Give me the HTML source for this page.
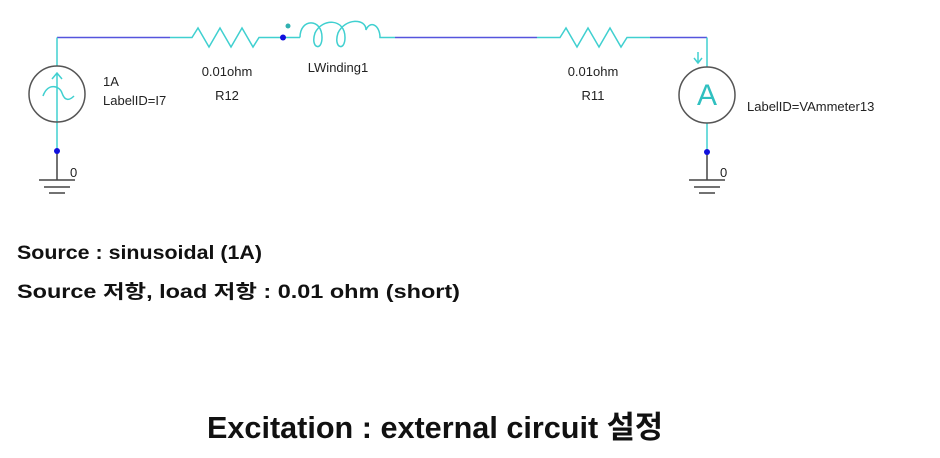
<!DOCTYPE html>
<html><head><meta charset="utf-8"><style>
html,body{margin:0;padding:0;background:#fff;}
svg{display:block}
</style></head><body>
<svg width="940" height="458" viewBox="0 0 940 458" xmlns="http://www.w3.org/2000/svg">
<g fill="none" stroke-width="1.5">
<!-- blue wires -->
<path d="M57 37.5 H170 M395 37.5 H537 M650 37.5 H707" stroke="#5555dd"/>
<!-- cyan parts -->
<g stroke="#40d0d0">
<path d="M57 37.5 V66 M57 122 V151"/>
<path d="M170 37.5 H192 L198 28 L209 47 L220 28 L231 47 L242 28 L253 47 L259 37.5 H300"/>
<path d="M300 37.5 C300 18, 322 18, 322 37.5 C322 52, 310 48, 315 33 C322 18, 345 18, 345 37.5 C345 52, 333 48, 338 33 C345 18, 366 18, 366 30 C370 20, 380 25, 380 37.5 H395"/>
<path d="M537 37.5 H560 L566 28 L577 47 L588 28 L599 47 L610 28 L621 47 L627 37.5 H650"/>
<path d="M707 37.5 V67 M707 123 V152"/>
<path d="M57 122 V73 M52 79 L57 73 L62 79"/>
<path d="M43 96 C48 82, 60 86, 62 93 C65 102, 70 100, 74 96"/>
<path d="M698 52 V62 M694 58 L698 63 L702 58"/>
</g>
<!-- circles -->
<circle cx="57" cy="94" r="28" stroke="#555"/>
<circle cx="707" cy="95" r="28" stroke="#555"/>
<!-- grounds -->
<g stroke="#444">
<path d="M57 151 V180 M39 180 H75 M44 187 H70 M49 193 H65"/>
<path d="M707 152 V180 M689 180 H725 M694 187 H720 M699 193 H715"/>
</g>
</g>
<g fill="#1010dd">
<circle cx="57" cy="151" r="3"/>
<circle cx="707" cy="152" r="3"/>
<circle cx="283" cy="37.5" r="3"/>
</g>
<circle cx="288" cy="26" r="2.5" fill="#30b0b0"/>
<text x="707" y="105" font-family="Liberation Sans, sans-serif" font-size="30" fill="#30c0c0" text-anchor="middle">A</text>
<g font-family="Liberation Sans, sans-serif" font-size="13" fill="#222">
<text x="103" y="86">1A</text>
<text x="103" y="105">LabelID=I7</text>
<text x="227" y="76" text-anchor="middle">0.01ohm</text>
<text x="227" y="100" text-anchor="middle">R12</text>
<text x="338" y="72" text-anchor="middle">LWinding1</text>
<text x="593" y="76" text-anchor="middle">0.01ohm</text>
<text x="593" y="100" text-anchor="middle">R11</text>
<text x="747" y="111">LabelID=VAmmeter13</text>
<text x="70" y="177">0</text>
<text x="720" y="177">0</text>
</g>
<g font-family="Liberation Sans, 'Noto Sans CJK KR', sans-serif" font-weight="bold" fill="#111">
<text x="17" y="259" font-size="19" textLength="245" lengthAdjust="spacingAndGlyphs">Source : sinusoidal (1A)</text>
<text x="17" y="298" font-size="19" textLength="443" lengthAdjust="spacingAndGlyphs">Source 저항, load 저항 : 0.01 ohm (short)</text>
<text x="207" y="438" font-size="31" textLength="456" lengthAdjust="spacingAndGlyphs">Excitation : external circuit 설정</text>
</g>
</svg>
</body></html>
